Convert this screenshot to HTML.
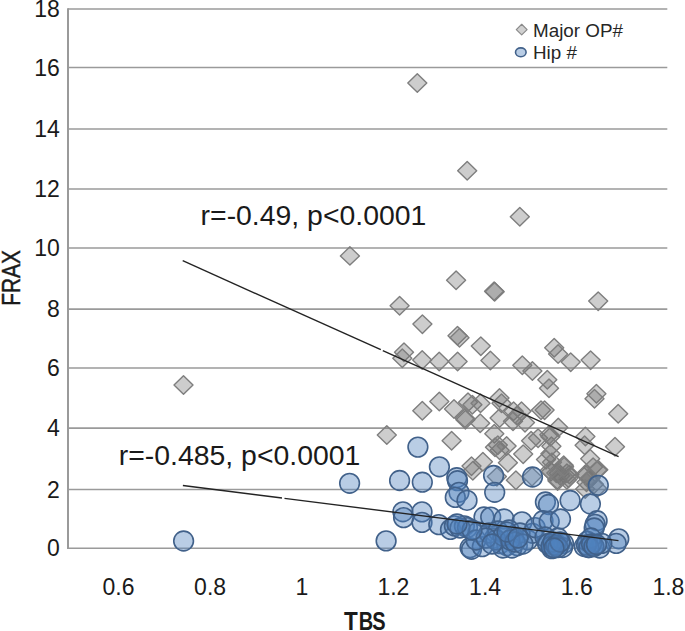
<!DOCTYPE html>
<html><head><meta charset="utf-8"><style>
html,body{margin:0;padding:0;background:#fff;}
body{width:685px;height:631px;position:relative;overflow:hidden;font-family:"Liberation Sans",sans-serif;color:#1a1a1a;}
svg{position:absolute;left:0;top:0;}
.g{stroke:#9a9a9a;stroke-width:1.6;}
.d{fill:rgba(116,116,116,0.36);stroke:#7e7e7e;stroke-width:1.4;stroke-linejoin:round;}
.c{fill:rgba(79,129,189,0.4);stroke:#41618a;stroke-width:1.6;}
.t{stroke:#232323;stroke-width:1.4;}
.yl{position:absolute;left:0;width:59.8px;text-align:right;font-size:23px;line-height:26px;}
.xl{position:absolute;top:574.2px;width:80px;text-align:center;font-size:23px;line-height:26px;}
.ann{position:absolute;font-size:28.4px;line-height:32px;white-space:nowrap;}
.tbs{position:absolute;top:607.6px;width:80px;text-align:center;font-weight:bold;font-size:25px;line-height:26px;transform:scaleX(0.8);}
.frax{position:absolute;left:-29.1px;top:264.7px;width:80px;text-align:center;font-size:25px;line-height:26px;transform:rotate(-90deg) scaleX(0.835);-webkit-text-stroke:0.45px #1a1a1a;}
.leg{position:absolute;left:532.7px;font-size:17.5px;line-height:20px;color:#262626;white-space:nowrap;transform:scaleX(1.075);transform-origin:0 0;}
</style></head><body>
<svg width="685" height="631" viewBox="0 0 685 631">
<line x1="68" y1="489.50" x2="667.3" y2="489.50" class="g"/>
<line x1="68" y1="428.10" x2="667.3" y2="428.10" class="g"/>
<line x1="68" y1="368.00" x2="667.3" y2="368.00" class="g"/>
<line x1="68" y1="309.10" x2="667.3" y2="309.10" class="g"/>
<line x1="68" y1="248.00" x2="667.3" y2="248.00" class="g"/>
<line x1="68" y1="189.00" x2="667.3" y2="189.00" class="g"/>
<line x1="68" y1="129.00" x2="667.3" y2="129.00" class="g"/>
<line x1="68" y1="67.50" x2="667.3" y2="67.50" class="g"/>
<line x1="68" y1="9.00" x2="667.3" y2="9.00" class="g"/>
<line x1="68" y1="8.2" x2="68" y2="549" class="g" style="stroke-width:2"/>
<line x1="67" y1="548.2" x2="667.3" y2="548.2" class="g"/>
<path class="d" d="M183.5 375.8L193.0 385.0L183.5 394.2L174.0 385.0Z"/>
<path class="d" d="M349.9 246.7L359.4 255.9L349.9 265.1L340.4 255.9Z"/>
<path class="d" d="M417.3 73.8L426.8 83.1L417.3 92.3L407.8 83.1Z"/>
<path class="d" d="M467.2 161.5L476.7 170.7L467.2 180.0L457.7 170.7Z"/>
<path class="d" d="M519.8 207.5L529.3 216.7L519.8 226.0L510.3 216.7Z"/>
<path class="d" d="M456.1 270.9L465.6 280.2L456.1 289.4L446.6 280.2Z"/>
<path class="d" d="M494.1 281.9L503.6 291.2L494.1 300.4L484.6 291.2Z"/>
<path class="d" d="M494.7 282.6L504.2 291.8L494.7 301.1L485.2 291.8Z"/>
<path class="d" d="M399.6 296.4L409.1 305.7L399.6 314.9L390.1 305.7Z"/>
<path class="d" d="M422.4 314.9L431.9 324.1L422.4 333.4L412.9 324.1Z"/>
<path class="d" d="M598.2 291.9L607.7 301.1L598.2 310.4L588.7 301.1Z"/>
<path class="d" d="M457.5 326.6L467.0 335.8L457.5 345.1L448.0 335.8Z"/>
<path class="d" d="M459.5 328.6L469.0 337.8L459.5 347.1L450.0 337.8Z"/>
<path class="d" d="M480.8 336.9L490.3 346.1L480.8 355.4L471.3 346.1Z"/>
<path class="d" d="M404.0 343.1L413.5 352.3L404.0 361.6L394.5 352.3Z"/>
<path class="d" d="M402.3 349.1L411.8 358.3L402.3 367.6L392.8 358.3Z"/>
<path class="d" d="M422.2 350.7L431.7 359.9L422.2 369.2L412.7 359.9Z"/>
<path class="d" d="M439.2 352.2L448.7 361.5L439.2 370.8L429.7 361.5Z"/>
<path class="d" d="M457.6 352.2L467.1 361.5L457.6 370.8L448.1 361.5Z"/>
<path class="d" d="M490.4 351.2L499.9 360.5L490.4 369.8L480.9 360.5Z"/>
<path class="d" d="M522.3 355.9L531.8 365.2L522.3 374.4L512.8 365.2Z"/>
<path class="d" d="M532.4 361.8L541.9 371.0L532.4 380.2L522.9 371.0Z"/>
<path class="d" d="M547.3 370.6L556.8 379.8L547.3 389.1L537.8 379.8Z"/>
<path class="d" d="M549.0 379.1L558.5 388.3L549.0 397.6L539.5 388.3Z"/>
<path class="d" d="M554.2 338.6L563.7 347.8L554.2 357.1L544.7 347.8Z"/>
<path class="d" d="M558.1 344.7L567.6 353.9L558.1 363.2L548.6 353.9Z"/>
<path class="d" d="M570.7 352.9L580.2 362.1L570.7 371.4L561.2 362.1Z"/>
<path class="d" d="M590.6 350.9L600.1 360.1L590.6 369.4L581.1 360.1Z"/>
<path class="d" d="M596.4 384.6L605.9 393.8L596.4 403.1L586.9 393.8Z"/>
<path class="d" d="M594.5 389.6L604.0 398.8L594.5 408.1L585.0 398.8Z"/>
<path class="d" d="M618.2 404.6L627.7 413.8L618.2 423.1L608.7 413.8Z"/>
<path class="d" d="M615.0 437.6L624.5 446.8L615.0 456.1L605.5 446.8Z"/>
<path class="d" d="M386.8 425.8L396.3 435.0L386.8 444.2L377.3 435.0Z"/>
<path class="d" d="M422.3 401.4L431.8 410.7L422.3 419.9L412.8 410.7Z"/>
<path class="d" d="M439.3 392.2L448.8 401.5L439.3 410.8L429.8 401.5Z"/>
<path class="d" d="M454.0 399.8L463.5 409.0L454.0 418.2L444.5 409.0Z"/>
<path class="d" d="M451.6 431.6L461.1 440.8L451.6 450.1L442.1 440.8Z"/>
<path class="d" d="M468.0 392.9L477.5 402.2L468.0 411.4L458.5 402.2Z"/>
<path class="d" d="M472.4 395.6L481.9 404.8L472.4 414.1L462.9 404.8Z"/>
<path class="d" d="M480.5 394.1L490.0 403.3L480.5 412.6L471.0 403.3Z"/>
<path class="d" d="M465.4 410.4L474.9 419.7L465.4 428.9L455.9 419.7Z"/>
<path class="d" d="M480.2 414.1L489.7 423.3L480.2 432.6L470.7 423.3Z"/>
<path class="d" d="M499.5 388.7L509.0 397.9L499.5 407.2L490.0 397.9Z"/>
<path class="d" d="M501.5 393.9L511.0 403.2L501.5 412.4L492.0 403.2Z"/>
<path class="d" d="M499.6 408.8L509.1 418.0L499.6 427.2L490.1 418.0Z"/>
<path class="d" d="M513.6 402.1L523.1 411.3L513.6 420.6L504.1 411.3Z"/>
<path class="d" d="M517.0 406.6L526.5 415.8L517.0 425.1L507.5 415.8Z"/>
<path class="d" d="M521.5 402.1L531.0 411.3L521.5 420.6L512.0 411.3Z"/>
<path class="d" d="M513.0 412.1L522.5 421.3L513.0 430.6L503.5 421.3Z"/>
<path class="d" d="M525.0 413.4L534.5 422.6L525.0 431.9L515.5 422.6Z"/>
<path class="d" d="M541.0 400.9L550.5 410.1L541.0 419.4L531.5 410.1Z"/>
<path class="d" d="M544.6 400.9L554.1 410.1L544.6 419.4L535.1 410.1Z"/>
<path class="d" d="M550.4 427.4L559.9 436.7L550.4 445.9L540.9 436.7Z"/>
<path class="d" d="M551.4 436.9L560.9 446.2L551.4 455.4L541.9 446.2Z"/>
<path class="d" d="M550.4 444.6L559.9 453.8L550.4 463.1L540.9 453.8Z"/>
<path class="d" d="M494.3 424.4L503.8 433.7L494.3 442.9L484.8 433.7Z"/>
<path class="d" d="M497.8 435.9L507.3 445.1L497.8 454.4L488.3 445.1Z"/>
<path class="d" d="M499.6 441.1L509.1 450.3L499.6 459.6L490.1 450.3Z"/>
<path class="d" d="M495.0 438.1L504.5 447.3L495.0 456.6L485.5 447.3Z"/>
<path class="d" d="M506.6 436.8L516.1 446.0L506.6 455.2L497.1 446.0Z"/>
<path class="d" d="M523.2 444.9L532.7 454.1L523.2 463.4L513.7 454.1Z"/>
<path class="d" d="M531.1 431.4L540.6 440.7L531.1 449.9L521.6 440.7Z"/>
<path class="d" d="M538.1 428.9L547.6 438.1L538.1 447.4L528.6 438.1Z"/>
<path class="d" d="M558.3 418.2L567.8 427.5L558.3 436.8L548.8 427.5Z"/>
<path class="d" d="M549.3 425.6L558.8 434.8L549.3 444.1L539.8 434.8Z"/>
<path class="d" d="M546.0 450.4L555.5 459.6L546.0 468.9L536.5 459.6Z"/>
<path class="d" d="M550.9 462.4L560.4 471.7L550.9 480.9L541.4 471.7Z"/>
<path class="d" d="M558.9 464.1L568.4 473.3L558.9 482.6L549.4 473.3Z"/>
<path class="d" d="M566.9 464.1L576.4 473.3L566.9 482.6L557.4 473.3Z"/>
<path class="d" d="M568.5 468.9L578.0 478.1L568.5 487.4L559.0 478.1Z"/>
<path class="d" d="M557.3 470.4L566.8 479.7L557.3 488.9L547.8 479.7Z"/>
<path class="d" d="M563.7 456.1L573.2 465.3L563.7 474.6L554.2 465.3Z"/>
<path class="d" d="M585.4 427.2L594.9 436.4L585.4 445.7L575.9 436.4Z"/>
<path class="d" d="M584.6 435.9L594.1 445.2L584.6 454.4L575.1 445.2Z"/>
<path class="d" d="M590.2 449.6L599.7 458.8L590.2 468.1L580.7 458.8Z"/>
<path class="d" d="M597.4 460.9L606.9 470.1L597.4 479.4L587.9 470.1Z"/>
<path class="d" d="M586.2 465.7L595.7 474.9L586.2 484.2L576.7 474.9Z"/>
<path class="d" d="M589.4 469.7L598.9 478.9L589.4 488.2L579.9 478.9Z"/>
<path class="d" d="M593.1 457.9L602.6 467.1L593.1 476.4L583.6 467.1Z"/>
<path class="d" d="M482.9 452.6L492.4 461.8L482.9 471.1L473.4 461.8Z"/>
<path class="d" d="M471.5 456.9L481.0 466.1L471.5 475.4L462.0 466.1Z"/>
<path class="d" d="M472.8 461.4L482.3 470.7L472.8 479.9L463.3 470.7Z"/>
<path class="d" d="M496.9 467.4L506.4 476.6L496.9 485.9L487.4 476.6Z"/>
<path class="d" d="M507.9 453.4L517.4 462.7L507.9 471.9L498.4 462.7Z"/>
<path class="d" d="M515.9 470.9L525.4 480.2L515.9 489.4L506.4 480.2Z"/>
<path class="d" d="M532.0 467.4L541.5 476.6L532.0 485.9L522.5 476.6Z"/>
<path class="d" d="M464.9 409.1L474.4 418.3L464.9 427.6L455.4 418.3Z"/>
<path class="d" d="M549.7 461.2L559.2 470.5L549.7 479.8L540.2 470.5Z"/>
<path class="d" d="M556.3 463.9L565.8 473.1L556.3 482.4L546.8 473.1Z"/>
<path class="d" d="M560.2 466.4L569.7 475.7L560.2 484.9L550.7 475.7Z"/>
<path class="d" d="M569.4 465.2L578.9 474.4L569.4 483.7L559.9 474.4Z"/>
<path class="d" d="M557.6 471.8L567.1 481.0L557.6 490.2L548.1 481.0Z"/>
<path class="d" d="M566.8 470.4L576.3 479.7L566.8 488.9L557.3 479.7Z"/>
<path class="d" d="M564.1 457.4L573.6 466.7L564.1 475.9L554.6 466.7Z"/>
<path class="d" d="M552.0 453.1L561.5 462.3L552.0 471.6L542.5 462.3Z"/>
<path class="d" d="M598.3 460.6L607.8 469.8L598.3 479.1L588.8 469.8Z"/>
<path class="d" d="M585.2 465.2L594.7 474.4L585.2 483.7L575.7 474.4Z"/>
<path class="d" d="M590.4 469.1L599.9 478.3L590.4 487.6L580.9 478.3Z"/>
<path class="d" d="M586.5 473.1L596.0 482.3L586.5 491.6L577.0 482.3Z"/>
<path class="d" d="M585.2 479.7L594.7 488.9L585.2 498.2L575.7 488.9Z"/>
<path class="d" d="M594.0 475.1L603.5 484.3L594.0 493.6L584.5 484.3Z"/>
<path class="d" d="M597.0 479.1L606.5 488.3L597.0 497.6L587.5 488.3Z"/>
<circle class="c" cx="183.6" cy="541.0" r="9.85"/>
<circle class="c" cx="349.6" cy="483.3" r="9.85"/>
<circle class="c" cx="386.1" cy="540.9" r="9.85"/>
<circle class="c" cx="399.6" cy="480.5" r="9.85"/>
<circle class="c" cx="417.9" cy="447.1" r="9.85"/>
<circle class="c" cx="422.3" cy="482.2" r="9.85"/>
<circle class="c" cx="439.4" cy="466.8" r="9.85"/>
<circle class="c" cx="402.9" cy="511.8" r="9.85"/>
<circle class="c" cx="403.6" cy="517.6" r="9.85"/>
<circle class="c" cx="422.0" cy="511.9" r="9.85"/>
<circle class="c" cx="422.0" cy="522.4" r="9.85"/>
<circle class="c" cx="456.8" cy="477.7" r="9.85"/>
<circle class="c" cx="457.5" cy="480.7" r="9.85"/>
<circle class="c" cx="459.0" cy="492.3" r="9.85"/>
<circle class="c" cx="455.3" cy="497.4" r="9.85"/>
<circle class="c" cx="467.0" cy="500.4" r="9.85"/>
<circle class="c" cx="493.6" cy="475.5" r="9.85"/>
<circle class="c" cx="494.7" cy="492.3" r="9.85"/>
<circle class="c" cx="532.5" cy="477.0" r="9.85"/>
<circle class="c" cx="545.4" cy="502.0" r="9.85"/>
<circle class="c" cx="548.5" cy="504.5" r="9.85"/>
<circle class="c" cx="570.1" cy="500.5" r="9.85"/>
<circle class="c" cx="590.4" cy="504.0" r="9.85"/>
<circle class="c" cx="598.3" cy="485.3" r="9.85"/>
<circle class="c" cx="438.8" cy="524.6" r="9.85"/>
<circle class="c" cx="450.5" cy="529.4" r="9.85"/>
<circle class="c" cx="454.4" cy="525.9" r="9.85"/>
<circle class="c" cx="464.4" cy="525.9" r="9.85"/>
<circle class="c" cx="467.5" cy="527.6" r="9.85"/>
<circle class="c" cx="470.1" cy="547.7" r="9.85"/>
<circle class="c" cx="471.5" cy="549.3" r="9.85"/>
<circle class="c" cx="478.0" cy="532.0" r="9.85"/>
<circle class="c" cx="482.3" cy="546.7" r="9.85"/>
<circle class="c" cx="476.0" cy="540.0" r="9.85"/>
<circle class="c" cx="484.0" cy="517.0" r="9.85"/>
<circle class="c" cx="490.7" cy="517.1" r="9.85"/>
<circle class="c" cx="504.0" cy="519.0" r="9.85"/>
<circle class="c" cx="522.0" cy="521.9" r="9.85"/>
<circle class="c" cx="494.5" cy="538.0" r="9.85"/>
<circle class="c" cx="500.2" cy="543.7" r="9.85"/>
<circle class="c" cx="506.9" cy="545.6" r="9.85"/>
<circle class="c" cx="513.5" cy="537.1" r="9.85"/>
<circle class="c" cx="517.3" cy="545.6" r="9.85"/>
<circle class="c" cx="527.8" cy="540.0" r="9.85"/>
<circle class="c" cx="532.5" cy="533.3" r="9.85"/>
<circle class="c" cx="489.0" cy="533.0" r="9.85"/>
<circle class="c" cx="498.0" cy="531.0" r="9.85"/>
<circle class="c" cx="509.0" cy="530.0" r="9.85"/>
<circle class="c" cx="520.0" cy="533.0" r="9.85"/>
<circle class="c" cx="503.0" cy="548.0" r="9.85"/>
<circle class="c" cx="512.0" cy="548.0" r="9.85"/>
<circle class="c" cx="535.2" cy="527.6" r="9.85"/>
<circle class="c" cx="543.0" cy="520.7" r="9.85"/>
<circle class="c" cx="549.2" cy="521.5" r="9.85"/>
<circle class="c" cx="560.5" cy="519.0" r="9.85"/>
<circle class="c" cx="547.4" cy="543.3" r="9.85"/>
<circle class="c" cx="551.8" cy="544.2" r="9.85"/>
<circle class="c" cx="556.1" cy="543.3" r="9.85"/>
<circle class="c" cx="560.5" cy="542.5" r="9.85"/>
<circle class="c" cx="563.5" cy="543.5" r="9.85"/>
<circle class="c" cx="562.5" cy="547.5" r="9.85"/>
<circle class="c" cx="551.8" cy="548.6" r="9.85"/>
<circle class="c" cx="545.0" cy="537.0" r="9.85"/>
<circle class="c" cx="558.0" cy="538.0" r="9.85"/>
<circle class="c" cx="597.1" cy="520.7" r="9.85"/>
<circle class="c" cx="595.1" cy="524.4" r="9.85"/>
<circle class="c" cx="594.2" cy="528.0" r="9.85"/>
<circle class="c" cx="618.8" cy="538.8" r="9.85"/>
<circle class="c" cx="616.2" cy="543.4" r="9.85"/>
<circle class="c" cx="584.3" cy="546.5" r="9.85"/>
<circle class="c" cx="588.4" cy="547.5" r="9.85"/>
<circle class="c" cx="593.5" cy="546.5" r="9.85"/>
<circle class="c" cx="599.7" cy="548.0" r="9.85"/>
<circle class="c" cx="601.8" cy="543.4" r="9.85"/>
<circle class="c" cx="587.4" cy="541.3" r="9.85"/>
<circle class="c" cx="591.0" cy="538.0" r="9.85"/>
<circle class="c" cx="548.0" cy="544.0" r="9.85"/>
<circle class="c" cx="551.0" cy="546.5" r="9.85"/>
<circle class="c" cx="553.0" cy="542.0" r="9.85"/>
<circle class="c" cx="556.0" cy="545.5" r="9.85"/>
<circle class="c" cx="558.0" cy="547.5" r="9.85"/>
<circle class="c" cx="560.0" cy="542.0" r="9.85"/>
<circle class="c" cx="554.0" cy="548.0" r="9.85"/>
<circle class="c" cx="586.5" cy="545.0" r="9.85"/>
<circle class="c" cx="589.0" cy="547.5" r="9.85"/>
<circle class="c" cx="591.5" cy="544.0" r="9.85"/>
<circle class="c" cx="594.0" cy="546.5" r="9.85"/>
<circle class="c" cx="596.5" cy="544.5" r="9.85"/>
<circle class="c" cx="496.0" cy="540.0" r="9.85"/>
<circle class="c" cx="503.0" cy="536.0" r="9.85"/>
<circle class="c" cx="510.0" cy="540.0" r="9.85"/>
<circle class="c" cx="515.0" cy="542.0" r="9.85"/>
<circle class="c" cx="523.0" cy="544.0" r="9.85"/>
<circle class="c" cx="507.0" cy="532.0" r="9.85"/>
<circle class="c" cx="518.0" cy="538.0" r="9.85"/>
<circle class="c" cx="486.0" cy="538.0" r="9.85"/>
<circle class="c" cx="492.0" cy="544.0" r="9.85"/>
<circle class="c" cx="460.0" cy="528.0" r="9.85"/>
<circle class="c" cx="472.0" cy="530.0" r="9.85"/>
<circle class="c" cx="457.0" cy="524.0" r="9.85"/>
<line x1="182.7" y1="260.70" x2="380.8" y2="349.73" class="t"/>
<line x1="382.8" y1="350.63" x2="618.6" y2="456.60" class="t"/>
<line x1="182.9" y1="485.50" x2="282.0" y2="498.04" class="t"/>
<line x1="284.5" y1="498.35" x2="618.5" y2="540.60" class="t"/>
</svg>
<div class="yl" style="top:535.3px">0</div><div class="yl" style="top:476.6px">2</div><div class="yl" style="top:415.2px">4</div><div class="yl" style="top:355.1px">6</div><div class="yl" style="top:296.2px">8</div><div class="yl" style="top:235.1px">10</div><div class="yl" style="top:176.1px">12</div><div class="yl" style="top:116.1px">14</div><div class="yl" style="top:54.6px">16</div><div class="yl" style="top:-3.9px">18</div>
<div class="xl" style="left:78.5px">0.6</div><div class="xl" style="left:170.1px">0.8</div><div class="xl" style="left:261.8px">1</div><div class="xl" style="left:353.4px">1.2</div><div class="xl" style="left:445.1px">1.4</div><div class="xl" style="left:536.8px">1.6</div><div class="xl" style="left:628.4px">1.8</div>
<div class="tbs" style="left:311.3px;transform:scaleX(0.9)">T</div><div class="tbs" style="left:326.1px">B</div><div class="tbs" style="left:339.4px">S</div>
<div class="frax">FRAX</div>
<div class="ann" style="left:200.6px;top:198.7px">r=-0.49, p&lt;0.0001</div>
<div class="ann" style="left:118.8px;top:438.5px">r=-0.485, p&lt;0.0001</div>
<svg width="685" height="631" style="pointer-events:none">
<path d="M521.7 24.3L527.1 29.6L521.7 34.9L516.3 29.6Z" fill="#d0d0d0" stroke="#8a8a8a" stroke-width="1.2" stroke-linejoin="round"/>
<ellipse cx="520.8" cy="52.3" rx="5.3" ry="4.4" fill="#b9cde5" stroke="#41618a" stroke-width="1.6"/>
</svg>
<div class="leg" style="top:20.6px">Major OP#</div>
<div class="leg" style="top:42.6px">Hip #</div>
</body></html>
